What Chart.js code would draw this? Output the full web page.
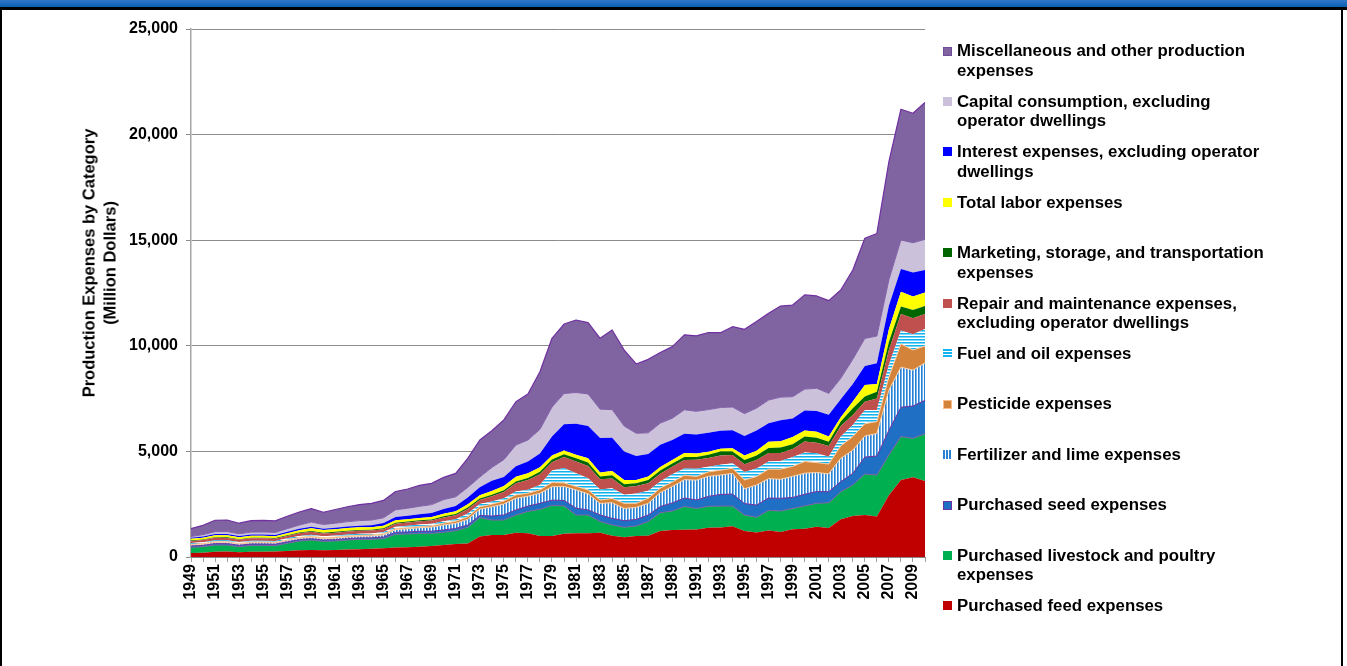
<!DOCTYPE html>
<html><head><meta charset="utf-8">
<script src="https://cdn.jsdelivr.net/npm/chart.js@4.4.0/dist/chart.umd.min.js"></script>
<style>
html,body{margin:0;padding:0;background:#fff;}
body{width:1347px;height:666px;position:relative;overflow:hidden;font-family:"Liberation Sans",Arial,sans-serif;}
#c{position:absolute;left:0;top:0;}
.hdr{position:absolute;left:0;top:0;width:1347px;height:7px;background:linear-gradient(#3078c8,#0a5fb0);}
.hline{position:absolute;left:0;top:7px;width:1347px;height:3px;background:#000;}
.lb{position:absolute;left:0;top:7px;width:2px;height:659px;background:#000;}
.rb{position:absolute;left:1341px;top:7px;width:2px;height:659px;background:#000;}
.ytitle{position:absolute;left:99px;top:263px;width:400px;transform:translate(-50%,-50%) rotate(-90deg);text-align:center;font-weight:bold;font-size:16.5px;line-height:20.5px;color:#000;white-space:nowrap;}
.leg{position:absolute;left:943px;font-weight:bold;font-size:16.8px;line-height:19.5px;color:#000;}
.sw{position:absolute;left:0;width:9px;height:9px;box-sizing:border-box;}
.lt{position:absolute;left:14px;top:0;white-space:nowrap;}
</style>
</head><body>
<canvas id="c" width="1347" height="666"></canvas>
<div class="hdr"></div><div class="hline"></div><div class="lb"></div><div class="rb"></div>
<div class="ytitle">Production Expenses by Category<br>(Million Dollars)</div>
<div id="legend"></div>
<script>
const years = ['1949','1950','1951','1952','1953','1954','1955','1956','1957','1958',
'1959','1960','1961','1962','1963','1964','1965','1966','1967','1968',
'1969','1970','1971','1972','1973','1974','1975','1976','1977','1978',
'1979','1980','1981','1982','1983','1984','1985','1986','1987','1988',
'1989','1990','1991','1992','1993','1994','1995','1996','1997','1998',
'1999','2000','2001','2002','2003','2004','2005','2006','2007','2008',
'2009','2010'];

const yTicks = [0, 5000, 10000, 15000, 20000, 25000];

const feed = [190,200,250,265,230,250,250,255,290,315,
330,320,330,350,370,390,410,455,460,480,
520,570,615,645,965,1040,1040,1150,1120,995,
1000,1100,1120,1130,1150,1010,930,990,1010,1230,
1280,1290,1300,1390,1400,1460,1230,1160,1260,1180,
1310,1340,1430,1370,1790,1940,1990,1920,2920,3650,
3780,3600];
const livestock = [270,290,318,300,260,300,300,285,360,440,
475,420,430,455,465,450,458,620,630,640,
600,600,630,760,900,710,710,840,1040,1260,
1440,1320,870,860,530,510,480,480,670,870,
900,1100,1000,1010,1010,950,760,720,950,1000,
990,1080,1110,1200,1300,1470,1940,1960,1910,2050,
1840,2230];
const seed = [60,60,65,65,62,63,63,62,65,65,
60,60,62,64,66,68,80,90,95,98,
100,110,110,110,100,190,240,240,250,285,
250,260,320,240,310,310,310,310,310,290,
380,400,400,470,550,570,540,580,580,600,
520,550,560,520,480,550,800,900,1170,1390,
1530,1590];
const fertilizer = [50,55,60,60,58,60,60,58,62,65,
70,68,72,76,80,86,100,130,150,170,
200,240,240,270,300,440,520,550,470,475,
640,660,870,760,550,740,580,570,550,660,
780,870,940,950,920,980,700,950,920,900,
1000,1000,900,850,1100,1100,1000,1070,1900,1900,
1700,1770];
const pesticide = [30,30,35,35,33,34,34,34,38,42,
50,48,50,50,50,50,50,55,55,58,
60,80,100,120,110,120,140,160,140,160,
200,170,160,190,160,200,240,190,240,210,
210,210,170,210,230,240,420,400,450,480,
470,550,470,460,590,640,580,560,620,1100,
950,800];
const fuel = [60,65,70,70,68,68,68,66,70,72,
70,68,70,72,74,74,80,85,90,95,
100,90,95,150,130,130,130,160,160,240,
560,700,630,550,500,480,410,470,360,320,
370,320,370,240,260,240,380,380,360,380,
450,430,440,350,440,550,640,550,580,630,
750,800];
const repair = [90,100,110,110,105,107,107,105,115,125,
140,132,136,138,138,138,140,145,150,150,
150,180,190,220,190,250,300,390,470,500,
400,520,550,580,480,470,350,350,350,360,
350,400,420,420,440,390,360,400,400,390,
370,520,500,500,500,470,400,550,700,790,
750,720];
const marketing = [30,30,30,30,30,30,30,30,32,35,
40,38,40,40,40,40,40,45,45,48,
50,60,60,70,70,70,80,90,90,120,
130,140,160,170,130,150,150,130,160,160,
160,140,140,150,180,160,200,220,240,250,
230,240,240,210,210,320,250,320,380,350,
400,380];
const labor = [80,85,95,95,90,92,92,90,98,108,
130,120,122,124,120,118,120,115,110,110,
110,120,130,150,160,180,200,220,220,220,
180,170,160,190,190,200,200,160,160,160,
160,190,160,140,140,160,220,220,300,300,
340,280,280,240,210,320,540,360,600,700,
630,630];
const interest = [50,55,55,55,54,56,56,55,60,68,
70,66,68,76,82,86,126,155,165,171,
190,220,240,320,380,480,430,500,560,650,
900,1250,1470,1530,1630,1580,1350,1130,1070,1050,
950,920,900,900,850,850,920,960,870,990,
880,950,980,1030,850,830,900,980,1120,1080,
1140,1070];
const capital = [60,90,110,120,110,120,125,125,150,180,
220,200,220,230,240,250,252,340,360,380,
400,450,440,480,480,630,820,1000,1020,1140,
1400,1450,1480,1520,1370,1330,1200,1080,1000,1030,
1030,1130,1100,1100,1100,1100,1060,1060,1100,1100,
1030,1010,1080,1020,990,1170,1310,1290,1230,1370,
1410,1450];
const misc = [370,440,542,545,500,540,545,545,590,615,
635,580,650,705,755,790,824,865,910,990,
1010,1050,1110,1375,1755,1740,1880,2050,2180,2730,
3255,3290,3430,3380,3355,3770,3600,3280,3480,3340,
3390,3550,3570,3650,3540,3805,3990,4095,4110,4310,
4340,4460,4370,4390,4180,4230,4740,4860,5590,6190,
6130,6480];

const seriesNames = [
 'Purchased feed expenses',
 'Purchased livestock and poultry\nexpenses',
 'Purchased seed expenses',
 'Fertilizer and lime expenses',
 'Pesticide expenses',
 'Fuel and oil expenses',
 'Repair and maintenance expenses,\nexcluding operator dwellings',
 'Marketing, storage, and transportation\nexpenses',
 'Total labor expenses',
 'Interest expenses, excluding operator\ndwellings',
 'Capital consumption, excluding\noperator dwellings',
 'Miscellaneous and other production\nexpenses'
];
const seriesData = [feed, livestock, seed, fertilizer, pesticide, fuel, repair, marketing, labor, interest, capital, misc];

function stripes(dir, cols){
  const n = cols.length;
  const c = document.createElement('canvas');
  c.width = dir==='v' ? n : 1; c.height = dir==='v' ? 1 : n;
  const g = c.getContext('2d');
  cols.forEach((col,i)=>{ g.fillStyle=col; if(dir==='v') g.fillRect(i,0,1,1); else g.fillRect(0,i,1,1); });
  return g.createPattern(c,'repeat');
}
const fertPattern = stripes('v', ['#2A80D2','#6FB0EA','#FFFFFF']);
const fuelPattern = stripes('h', ['#11B4EF','#7FD5F6','#FFFFFF']);

const styles = [
 {fill:'#C00000', border:'#C00000', bw:0, sw:'background:#C00000'},
 {fill:'#00B050', border:'#7F5FA8', bw:1, sw:'background:#00B050'},
 {fill:'#1F6FC4', border:'#7030A0', bw:1, sw:'background:#1F6FC4;border:1px solid #7030A0'},
 {fill:fertPattern, border:'#F9CFA6', bw:1, sw:'background:repeating-linear-gradient(90deg,#2A80D2 0 2px,#fff 2px 3px)'},
 {fill:'#D4833A', border:'#F9CFA6', bw:1, sw:'background:#D4833A;border:1px solid #F7BE8E'},
 {fill:fuelPattern, border:'#11B4EF', bw:0, sw:'background:repeating-linear-gradient(180deg,#11B4EF 0 2px,#fff 2px 3px)'},
 {fill:'#C0504D', border:'#C0504D', bw:0, sw:'background:#C0504D'},
 {fill:'#006600', border:'#006600', bw:0, sw:'background:#006600'},
 {fill:'#FFFF00', border:'#FFFF00', bw:0, sw:'background:#FFFF00'},
 {fill:'#0000FF', border:'#0000FF', bw:0, sw:'background:#0000FF'},
 {fill:'#CCC1DA', border:'#7F5FA8', bw:1, sw:'background:#CCC1DA'},
 {fill:'#8064A2', border:'#7030A0', bw:1.2, sw:'background:#8064A2;border:1px solid #6E4E96'}
];

const datasets = seriesData.map((d,i)=>({
  label: seriesNames[i].replace('\n',' '),
  data: d,
  backgroundColor: styles[i].fill,
  borderColor: styles[i].border,
  borderWidth: styles[i].bw,
  pointRadius: 0,
  tension: 0,
  fill: i===0 ? 'origin' : '-1'
}));

Chart.defaults.font.family = '"Liberation Sans", Arial, sans-serif';
Chart.defaults.color = '#000';

new Chart(document.getElementById('c'), {
  type: 'line',
  data: { labels: years, datasets: datasets },
  options: {
    responsive: false,
    devicePixelRatio: 1,
    animation: false,
    layout: { padding: { top: 29, right: 422, left: 0, bottom: 0 } },
    plugins: { legend: { display: false }, tooltip: { enabled: false }, title: { display: false } },
    elements: { line: { borderJoinStyle: 'round' } },
    scales: {
      x: {
        type: 'category',
        offset: false,
        afterFit: s => { s.height = 109; },
        grid: { drawOnChartArea: false, drawTicks: true, tickLength: 5, color: '#A0A0A0' },
        border: { display: true, color: '#868686' },
        ticks: {
          autoSkip: false, maxRotation: 90, minRotation: 90, padding: 2,
          font: { size: 16, weight: 'bold' }, color: '#000',
          callback: (v, i) => (i % 2 === 0 ? years[i] : '')
        }
      },
      y: {
        stacked: true,
        min: yTicks[0], max: yTicks[yTicks.length-1],
        afterFit: s => { s.width = 191; },
        afterBuildTicks: s => { s.ticks = yTicks.map(v => ({ value: v })); },
        grid: { color: '#8C8C8C', lineWidth: 1, tickLength: 5, drawTicks: true },
        border: { display: true, color: '#A6A6A6', width: 1.5 },
        ticks: {
          padding: 8, font: { size: 16, weight: 'bold' }, color: '#000',
          callback: v => v.toLocaleString('en-US')
        }
      }
    }
  }
});

// HTML legend (misc first, feed last)
const leg = document.getElementById('legend');
for (let k = 0; k < seriesNames.length; k++) {
  const i = seriesNames.length - 1 - k;
  const cy = 51 + 50.45 * k;
  const item = document.createElement('div');
  item.className = 'leg';
  item.style.top = (cy - 9.75) + 'px';
  const sw = document.createElement('div');
  sw.className = 'sw';
  sw.style.cssText = styles[i].sw;
  sw.style.top = (9.75 - 4.5) + 'px';
  const t = document.createElement('div');
  t.className = 'lt';
  t.innerHTML = seriesNames[i].split('\n').join('<br>');
  item.appendChild(sw); item.appendChild(t);
  leg.appendChild(item);
}
</script>
</body></html>
